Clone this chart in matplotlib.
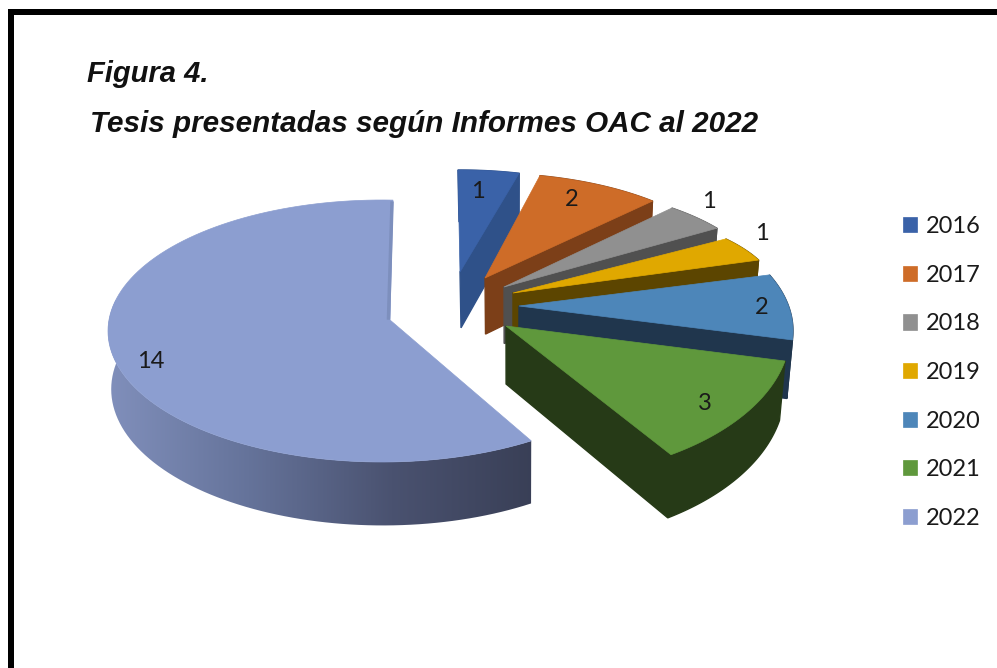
import numpy as np
import matplotlib
matplotlib.use('Agg')
import matplotlib.pyplot as plt
from matplotlib.colors import LinearSegmentedColormap
from matplotlib.patches import Patch, Polygon, Rectangle

# data
years = ['2016', '2017', '2018', '2019', '2020', '2021', '2022']
theses = [1, 2, 1, 1, 2, 3, 14]

# colours
top_colors = ['#3a62a8', '#ce6c28', '#909090', '#e0a800', '#4d86b9', '#5f983c', '#8c9ed0']
side_colors = ['#2f5189', '#7c3f18', '#505050', '#5c4500', '#20364d', '#263a17', '#7d8fbd']
wall_stops = ['#8190bc', '#65739a', '#4a5270', '#393f56']

# layout of the exploded slices, in pixels of the picture
apex_x = [460, 485, 504, 513, 519, 506, 390]
apex_y = [272, 278, 287, 293, 306, 326, 320]
center_x = [460, 485, 504, 513, 560, 525.5, 382]
center_y = [272, 278, 287, 293, 331, 331, 331]
radius_x = [236, 246, 258, 263, 233, 265, 274]
radius_y = [102, 105, 104, 92, 128, 148, 131]
turn_start = [-0.5, -2.1, -4.4, -6, -11, -3.3, -3]
turn_end = [-0.5, -2.1, -4.4, -6, -11, -3.3, 2.3]
shrink = [0.02, 0.02, 0.02, 0.02, 0.02, 0.02, 0.008]
label_x = [478, 572, 709, 762, 762, 705, 151]
label_y = [191, 200, 201, 233, 308, 404, 361]


def extrude(points, k):
  # the lower face of the pie, a bit deeper towards the viewer
  x = points[:, 0] - (points[:, 0] - 510) * k
  y = points[:, 1] + 58 + 0.04 * (points[:, 1] - 326)
  return np.column_stack([x, y])


fig = plt.figure(figsize=(9.97, 6.68), dpi=100)
ax = fig.add_axes([0, 0, 1, 1])

# frame, only on the left and on top
ax.add_patch(Rectangle((7.5, 9), 6.5, 659, color='black', lw=0))
ax.add_patch(Rectangle((7.5, 9), 990, 6, color='black', lw=0))

ax.text(87, 82, 'Figura 4.', family='Liberation Sans', weight='bold', style='italic',
        fontsize=21, color='#111111')
ax.text(90, 132, 'Tesis presentadas según Informes OAC al 2022', family='Liberation Sans',
        weight='bold', style='italic', fontsize=21.3, color='#111111')

# slices
unit = 360 / sum(theses)
start = np.cumsum([0] + theses[:-1]) * unit
for i in range(len(theses)):
  first = start[i] + turn_start[i]
  last = start[i] + theses[i] * unit + turn_end[i]
  phi = np.radians(np.linspace(first, last, 120))
  arc = np.column_stack([center_x[i] + radius_x[i] * np.sin(phi),
                         center_y[i] - radius_y[i] * np.cos(phi)])
  apex = np.array([[apex_x[i], apex_y[i]]])
  low_arc = extrude(arc, shrink[i])
  wall = np.vstack([arc, low_arc[::-1]])

  if years[i] == '2022':
    # outer wall with the shading of the original
    clip = Polygon(wall, transform=ax.transData, lw=0, fc='none')
    ax.add_patch(clip)
    shade = LinearSegmentedColormap.from_list('wall', wall_stops)
    im = ax.imshow(np.linspace(0, 1, 256).reshape(1, -1), cmap=shade, aspect='auto',
                   extent=(105, 535, 540, 300), zorder=1)
    im.set_clip_path(clip)
  else:
    ax.add_patch(Polygon(wall, fc=side_colors[i], ec=side_colors[i], lw=1, zorder=i + 2))
    cut = np.vstack([apex, arc[-1:], extrude(arc[-1:], shrink[i]), extrude(apex, shrink[i])])
    ax.add_patch(Polygon(cut, fc=side_colors[i], ec=side_colors[i], lw=1, zorder=i + 2))

  face = np.vstack([apex, arc])
  ax.add_patch(Polygon(face, fc=top_colors[i], ec=top_colors[i], lw=0.5, zorder=i + 2))

  if years[i] == '2022':
    # thin inner face seen along the closing edge
    ax.plot([arc[-1, 0] - 1, apex[0, 0] - 1.5], [arc[-1, 1] + 3, apex[0, 1] - 2],
            color=side_colors[i], lw=2.5, zorder=i + 3)

  ax.text(label_x[i], label_y[i], str(theses[i]), family='Lato', fontsize=17, color='#1a1a1a',
          ha='center', va='center', zorder=20)

# legend
handles = [Patch(fc=top_colors[i], ec=top_colors[i], lw=0.5, label=years[i]) for i in range(len(years))]
leg = ax.legend(handles=handles, loc='upper left', bbox_to_anchor=(902.5 / 997, 1 - 216 / 668),
                frameon=False, prop={'family': 'Lato', 'size': 17}, handlelength=0.62,
                handleheight=0.62, handletextpad=0.36, labelspacing=1.17, borderpad=0,
                borderaxespad=0)
for text in leg.get_texts():
  text.set_color('#1a1a1a')

ax.set_xlim(0, 997)
ax.set_ylim(668, 0)
ax.axis('off')
fig.savefig('out.png', dpi=100)
